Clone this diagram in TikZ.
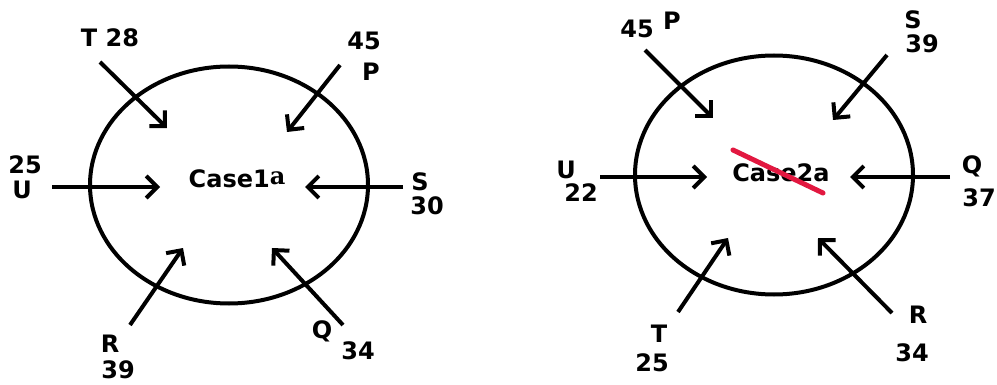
\documentclass[tikz,border=0pt]{standalone}
\usepackage{fontspec}
\setmainfont{DejaVu Sans}
\usetikzlibrary{shapes.geometric, arrows.meta}
\definecolor{strike}{RGB}{226,24,64}
\begin{document}
\begin{tikzpicture}[x=1pt, y=-1pt, font=\fontsize{24}{25}\selectfont\bfseries,
        ring/.style={draw, ellipse, line width=4pt, minimum width=278pt, minimum height=237pt},
        push/.style={-{Straight Barb[length=11pt, width=22pt]}, line width=4pt},
        lbl/.style={inner sep=0pt}]
    \useasboundingbox[fill=white] (0,0) rectangle (997,385);

    % Case 1
    \node (C1) [ring] at (229,185) {};
    \node (K1) [lbl] at (237,179) {Case1\raisebox{3pt}{\fontspec{DejaVu Serif}a}};
    \node (T1) [lbl] at (110,38) {T 28};
    \node (P1a) [lbl] at (364,41) {45};
    \node (P1b) [lbl] at (371,72) {P};
    \node (U1a) [lbl] at (25,165) {25};
    \node (U1b) [lbl] at (22,190) {U};
    \node (S1a) [lbl] at (420,182) {S};
    \node (S1b) [lbl] at (427,206) {30};
    \node (R1a) [lbl] at (110,344) {R};
    \node (R1b) [lbl] at (118,370) {39};
    \node (Q1a) [lbl] at (322,331) {Q};
    \node (Q1b) [lbl] at (358,351) {34};
    \coordinate (t1s) at (100,62);  \coordinate (t1e) at (167,128);
    \coordinate (p1s) at (340,65);  \coordinate (p1e) at (287,132);
    \coordinate (u1s) at (52,187);  \coordinate (u1e) at (160,187);
    \coordinate (s1s) at (403,187); \coordinate (s1e) at (305,187);
    \coordinate (r1s) at (130,325); \coordinate (r1e) at (183,248);
    \coordinate (q1s) at (343,325); \coordinate (q1e) at (272,248);
    \draw[push] (t1s) -- (t1e);
    \draw[push] (p1s) -- (p1e);
    \draw[push] (u1s) -- (u1e);
    \draw[push] (s1s) -- (s1e);
    \draw[push] (r1s) -- (r1e);
    \draw[push] (q1s) -- (q1e);

    % Case 2
    \node (C2) [ring, minimum height=239pt] at (774,175) {};
    \node (K2) [lbl] at (781,173) {Case2a};
    \node (P2a) [lbl] at (637,29) {45};
    \node (P2b) [lbl] at (672,21) {P};
    \node (S2a) [lbl] at (913,20) {S};
    \node (S2b) [lbl] at (922,44) {39};
    \node (U2a) [lbl] at (566,170) {U};
    \node (U2b) [lbl] at (581,193) {22};
    \node (Q2a) [lbl] at (972,166) {Q};
    \node (Q2b) [lbl] at (979,198) {37};
    \node (T2a) [lbl] at (659,334) {T};
    \node (T2b) [lbl] at (652,363) {25};
    \node (R2a) [lbl] at (918,315) {R};
    \node (R2b) [lbl] at (912,353) {34};
    \coordinate (p2s) at (645,50);  \coordinate (p2e) at (713,118);
    \coordinate (s2s) at (887,55);  \coordinate (s2e) at (833,120);
    \coordinate (u2s) at (600,177); \coordinate (u2e) at (707,177);
    \coordinate (q2s) at (950,177); \coordinate (q2e) at (850,177);
    \coordinate (t2s) at (678,312); \coordinate (t2e) at (728,238);
    \coordinate (r2s) at (892,313); \coordinate (r2e) at (818,238);
    \draw[push] (p2s) -- (p2e);
    \draw[push] (s2s) -- (s2e);
    \draw[push] (u2s) -- (u2e);
    \draw[push] (q2s) -- (q2e);
    \draw[push] (t2s) -- (t2e);
    \draw[push] (r2s) -- (r2e);
    \coordinate (x2s) at (733,150); \coordinate (x2e) at (823,193);
    \draw[strike, line width=5pt, line cap=round] (x2s) -- (x2e);
\end{tikzpicture}
\end{document}
